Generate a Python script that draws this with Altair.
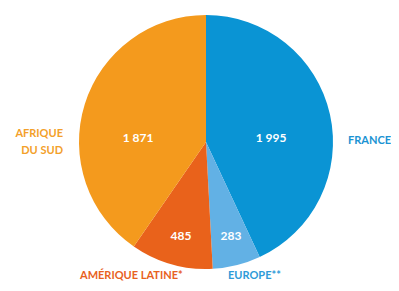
import altair as alt
import pandas as pd

categories = ["FRANCE", "EUROPE**", "AMÉRIQUE LATINE*", "AFRIQUE DU SUD"]
values = [1995, 283, 485, 1871]
value_labels = ["1 995", "283", "485", "1 871"]
colors = ["#0A94D4", "#62B1E5", "#E9621B", "#F49A1D"]
label_colors = ["#1B93D3", "#2E9BD8", "#E8621E", "#F3A02A"]

df = pd.DataFrame({"cat": categories, "val": values, "lab": value_labels,
                   "idx": list(range(len(categories)))})

CX, CY, R = 198, 134, 127
FONT = "Lato"

pie = alt.Chart(df).mark_arc(radius=R).encode(
    x=alt.value(CX), y=alt.value(CY),
    theta=alt.Theta("val:Q", stack=True),
    order=alt.Order("idx:Q"),
    color=alt.Color("cat:N", scale=alt.Scale(domain=categories, range=colors), legend=None),
)

# annotation positions (chart px) for value and category labels
val_pos = {"FRANCE": (263, 130), "EUROPE**": (223, 228), "AMÉRIQUE LATINE*": (173, 228),
           "AFRIQUE DU SUD": (130, 130)}
cat_pos = {"FRANCE": (340, 136, "left", ["FRANCE"]),
           "EUROPE**": (220, 271, "left", ["EUROPE**"]),
           "AMÉRIQUE LATINE*": (72, 271, "left", ["AMÉRIQUE LATINE*"]),
           "AFRIQUE DU SUD": (55, 129, "right", ["AFRIQUE", "DU SUD"])}

layers = [pie]
for i, c in enumerate(categories):
    sub = df[df.cat == c]
    vx, vy = val_pos[c]
    layers.append(alt.Chart(sub).mark_text(font=FONT, fontWeight="bold", fontSize=12,
                                           color="white", baseline="middle", align="center").encode(
        text="lab:N", x=alt.value(vx), y=alt.value(vy)))
    cx, cy, al, lines = cat_pos[c]
    layers.append(alt.Chart(sub).mark_text(font=FONT, fontWeight="bold", fontSize=11,
                                           color=label_colors[i], baseline="alphabetic", align=al,
                                           lineHeight=17, text=lines).encode(
        x=alt.value(cx), y=alt.value(cy)))

chart = alt.layer(*layers).properties(
    width=383, height=275, padding=0,
    autosize=alt.AutoSizeParams(type="none")
).configure_view(stroke=None)

chart.save("out.html", embed_options={"renderer": "svg", "actions": False})
